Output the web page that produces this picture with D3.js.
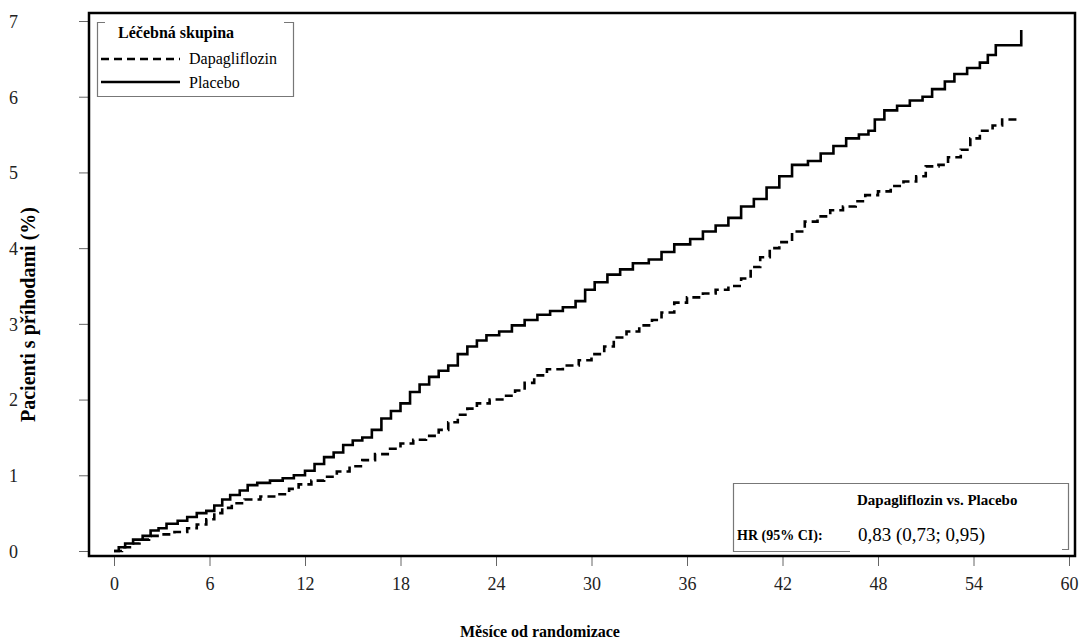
<!DOCTYPE html>
<html>
<head>
<meta charset="utf-8">
<script src="https://cdn.jsdelivr.net/npm/d3@7"></script>
<style>
  body { margin: 0; background: #fff; }
</style>
</head>
<body>
<div id="chart"></div>
<script>
// data: [months, % of patients with event]
const placebo = [[0,0],[0.3,0.05],[0.7,0.1],[1.2,0.15],[1.8,0.2],[2.3,0.27],[2.8,0.3],[3.3,0.36],[4,0.4],[4.6,0.45],[5.2,0.5],[5.8,0.53],[6.3,0.6],[6.8,0.68],[7.3,0.74],[7.9,0.8],[8.4,0.87],[9,0.9],[9.8,0.93],[10.6,0.96],[11.3,1.0],[12,1.06],[12.6,1.15],[13.2,1.24],[13.8,1.3],[14.4,1.4],[15,1.46],[15.6,1.5],[16.2,1.6],[16.8,1.75],[17.4,1.85],[18,1.95],[18.6,2.1],[19.2,2.2],[19.8,2.3],[20.4,2.38],[21,2.45],[21.6,2.6],[22.2,2.7],[22.8,2.78],[23.4,2.85],[24.2,2.9],[25,2.98],[25.8,3.05],[26.6,3.12],[27.4,3.17],[28.2,3.22],[29,3.3],[29.6,3.45],[30.2,3.55],[31,3.65],[31.8,3.72],[32.6,3.8],[33.6,3.85],[34.4,3.95],[35.2,4.05],[36.2,4.12],[37,4.22],[37.8,4.3],[38.6,4.4],[39.4,4.55],[40.2,4.65],[41,4.8],[41.8,4.95],[42.6,5.1],[43.6,5.15],[44.4,5.25],[45.2,5.35],[46,5.45],[46.8,5.5],[47.4,5.55],[47.8,5.7],[48.4,5.82],[49.2,5.88],[50,5.95],[50.8,6.0],[51.4,6.1],[52.2,6.2],[52.8,6.3],[53.6,6.38],[54.4,6.45],[54.9,6.55],[55.4,6.68],[57.0,6.88]];

const dapagliflozin = [[0,0],[0.5,0.05],[1,0.1],[1.6,0.15],[2.2,0.2],[3,0.22],[3.8,0.25],[4.6,0.3],[5.2,0.35],[5.8,0.42],[6.3,0.5],[6.8,0.57],[7.4,0.63],[8.2,0.68],[9.2,0.72],[10.2,0.75],[11,0.82],[11.6,0.88],[12.4,0.93],[13.2,0.98],[14,1.05],[14.8,1.12],[15.6,1.2],[16.4,1.28],[17.2,1.35],[18,1.42],[18.8,1.47],[19.6,1.52],[20.4,1.6],[21,1.7],[21.6,1.8],[22.2,1.88],[22.8,1.95],[23.6,2.0],[24.4,2.05],[25.2,2.12],[25.8,2.22],[26.4,2.32],[27.2,2.4],[28.2,2.45],[29.2,2.52],[30,2.6],[30.8,2.7],[31.4,2.82],[32.2,2.9],[33,2.98],[33.8,3.05],[34.4,3.15],[35.2,3.28],[36,3.35],[37,3.4],[37.8,3.45],[38.6,3.5],[39.4,3.6],[40,3.75],[40.6,3.88],[41.2,4.0],[41.8,4.08],[42.6,4.22],[43.4,4.35],[44.2,4.42],[45,4.5],[45.8,4.55],[46.6,4.62],[47.2,4.7],[48,4.75],[48.8,4.82],[49.6,4.88],[50.4,4.95],[51,5.08],[51.8,5.1],[52.4,5.2],[53.2,5.3],[53.8,5.45],[54.4,5.55],[55.2,5.62],[55.8,5.7],[57.0,5.7]];

const xTicks = [0, 6, 12, 18, 24, 30, 36, 42, 48, 54, 60];
const yTicks = [0, 1, 2, 3, 4, 5, 6, 7];

const serif = "'Liberation Serif', 'Times New Roman', Times, serif";

const width = 1083, height = 643;
const frame = { left: 89, top: 13, right: 1075, bottom: 556 };

const svg = d3.select("#chart").append("svg")
    .attr("width", width)
    .attr("height", height)
    .style("font-family", serif);

const x = d3.scaleLinear().domain([0, 60]).range([114, 1069]);
const y = d3.scaleLinear().domain([0, 7]).range([551, 21]);

// axes
const xAxis = svg.append("g")
    .attr("transform", `translate(0,${frame.bottom})`)
    .call(d3.axisBottom(x).tickValues(xTicks).tickSize(10).tickPadding(11).tickFormat(d3.format("d")));
const yAxis = svg.append("g")
    .attr("transform", `translate(${frame.left},0)`)
    .call(d3.axisLeft(y).tickValues(yTicks).tickSize(10).tickPadding(58).tickFormat(d3.format("d")));

[xAxis, yAxis].forEach(a => {
  a.attr("font-family", serif).attr("font-size", 18);
  a.select(".domain").remove();
  a.selectAll(".tick line").attr("stroke", "#666").attr("stroke-width", 1);
  a.selectAll(".tick text").attr("fill", "#222");
});
yAxis.selectAll(".tick text").attr("text-anchor", "start")
    .attr("x", -80).attr("dy", "0.35em");

// curves
const line = d3.line().x(d => x(d[0])).y(d => y(d[1])).curve(d3.curveStepAfter);

svg.append("path")
    .attr("d", line(placebo))
    .attr("fill", "none").attr("stroke", "#000").attr("stroke-width", 2.6);

svg.append("path")
    .attr("d", line(dapagliflozin))
    .attr("fill", "none").attr("stroke", "#000").attr("stroke-width", 2.6)
    .style("stroke-dasharray", "8,5");

// frame
svg.append("rect")
    .attr("x", frame.left).attr("y", frame.top)
    .attr("width", frame.right - frame.left).attr("height", frame.bottom - frame.top)
    .attr("fill", "none").attr("stroke", "#000").attr("stroke-width", 2.5);

// legend
const leg = svg.append("g").style("font-family", serif);
leg.append("path")
    .attr("d", "M105,22.5H97.5V96.5H293.5V22.5H284")
    .attr("fill", "none").attr("stroke", "#777").attr("stroke-width", 1.2);
leg.append("text").attr("x", 118).attr("y", 38)
    .style("font-size", "16px").style("font-weight", "bold").text("Léčebná skupina");
leg.append("line").attr("x1", 101).attr("x2", 180).attr("y1", 59).attr("y2", 59)
    .attr("stroke", "#000").attr("stroke-width", 2.4).style("stroke-dasharray", "8,5");
leg.append("line").attr("x1", 101).attr("x2", 180).attr("y1", 82).attr("y2", 82)
    .attr("stroke", "#000").attr("stroke-width", 2.6);
leg.append("text").attr("x", 189).attr("y", 64).style("font-size", "16px").text("Dapagliflozin");
leg.append("text").attr("x", 189).attr("y", 88).style("font-size", "16px").text("Placebo");

// hazard ratio box
const hr = svg.append("g").style("font-family", serif);
hr.append("path")
    .attr("d", "M850,551.5H733.5V483.5H1068.5V549.5H1062")
    .attr("fill", "none").attr("stroke", "#777").attr("stroke-width", 1.2);
hr.append("text").attr("x", 857).attr("y", 505)
    .style("font-size", "15px").style("font-weight", "bold").text("Dapagliflozin vs. Placebo");
hr.append("text").attr("x", 737).attr("y", 540)
    .style("font-size", "14px").style("font-weight", "bold").text("HR (95% CI):");
hr.append("text").attr("x", 858).attr("y", 541)
    .style("font-size", "19px").text("0,83 (0,73; 0,95)");

// axis titles
svg.append("text")
    .attr("transform", `translate(35,${(frame.top + frame.bottom) / 2 + 30}) rotate(-90)`)
    .attr("text-anchor", "middle")
    .style("font-size", "20px").style("font-weight", "bold")
    .text("Pacienti s příhodami (%)");

svg.append("text")
    .attr("x", 540).attr("y", 637)
    .attr("text-anchor", "middle")
    .style("font-size", "16px").style("font-weight", "bold")
    .text("Měsíce od randomizace");
</script>
</body>
</html>
